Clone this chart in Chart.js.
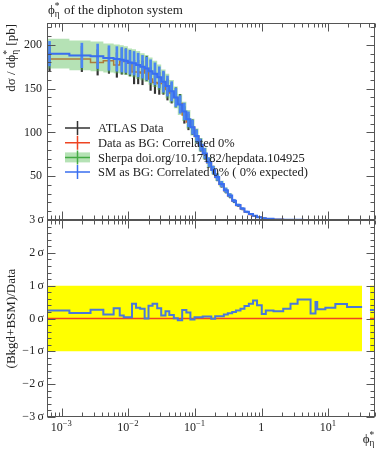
<!DOCTYPE html>
<html>
<head>
<meta charset="utf-8">
<style>
  html, body { margin: 0; padding: 0; background: #fff; }
</style>
</head>
<body>
<canvas id="phiChart" width="389" height="450"></canvas>
<script src="https://cdn.jsdelivr.net/npm/chart.js"></script>
<script>
// bin edges in phi*_eta (first bin really starts at 0, put just below the axis)
const binEdges = [0.00001, 0.0013, 0.0027, 0.0042, 0.006, 0.0074, 0.0085, 0.0098, 0.0113, 0.013,
    0.015, 0.0175, 0.02, 0.023, 0.027, 0.031, 0.036, 0.041, 0.048, 0.055,
    0.064, 0.074, 0.085, 0.098, 0.113, 0.13, 0.15, 0.175, 0.2, 0.23,
    0.27, 0.31, 0.36, 0.41, 0.48, 0.55, 0.64, 0.74, 0.85, 1.0,
    1.15, 1.5, 2.1, 2.7, 3.45, 4.1, 5.4, 6.4, 6.8, 9.0,
    12.7, 19, 32];

// ATLAS data, d sigma / d phi* [pb]
const dataVals = [184, 184, 180, 182, 177, 181, 181, 179, 169, 169,
    168, 173, 161, 157, 156, 156, 149, 145, 140, 133,
    120, 112, 106, 95.5, 85.5, 75.4, 65.5, 57, 48.6, 40.6,
    33.5, 27.4, 21.4, 16.5, 12.5, 9.0, 6.4, 4.5, 3.0, 2.06,
    1.26, 0.68, 0.38, 0.24, 0.14, 0.09, 0.07, 0.047, 0.04, 0.03,
    0.02, 0.01];
const dataErr = [14.5, 14.5, 14.5, 14.5, 14, 14.5, 14.5, 14.5, 13.5, 13.5,
    13.5, 14, 13, 12.5, 12.5, 12.5, 12, 11.5, 11, 10.5,
    9.5, 9, 8.5, 7.5, 7, 6, 5.2, 4.6, 3.9, 3.2,
    2.7, 2.2, 1.7, 1.3, 1.0, 0.72, 0.51, 0.36, 0.24, 0.16,
    0.1, 0.055, 0.03, 0.02, 0.011, 0.007, 0.006, 0.004, 0.003, 0.0025,
    0.0016, 0.0008];

// SM (Sherpa) prediction
const smVals = [190, 188, 187, 185, 184, 183, 182, 180, 179, 177,
    175, 173, 170, 167, 163, 158, 153, 147, 140, 132,
    124, 115, 106, 96, 86, 76, 66, 57, 49, 41,
    34, 28, 22, 17, 13, 9.5, 6.8, 4.8, 3.2, 2.1,
    1.3, 0.7, 0.4, 0.25, 0.15, 0.1, 0.07, 0.05, 0.04, 0.03,
    0.02, 0.01];
const smErr = [14, 14, 14, 14, 14, 14, 13.5, 13.5, 13.5, 13.5,
    13, 13, 13, 12.5, 12, 12, 11.5, 11, 10.5, 10,
    9.5, 8.5, 8, 7, 6.5, 5.7, 5, 4.3, 3.7, 3.1,
    2.6, 2.1, 1.7, 1.3, 1.0, 0.7, 0.5, 0.36, 0.24, 0.16,
    0.1, 0.05, 0.03, 0.02, 0.011, 0.008, 0.005, 0.004, 0.003, 0.002,
    0.0015, 0.001];
const sherpaErr = [17, 17, 17, 16.5, 16.5, 16.5, 16.5, 16, 16, 16,
    15.5, 15.5, 15.5, 15, 14.5, 14, 14, 13, 12.5, 12,
    11, 10.5, 9.5, 8.5, 7.7, 6.8, 6, 5.1, 4.4, 3.7,
    3.1, 2.5, 2, 1.5, 1.2, 0.85, 0.6, 0.43, 0.29, 0.19,
    0.12, 0.06, 0.04, 0.02, 0.014, 0.009, 0.006, 0.005, 0.004, 0.003,
    0.002, 0.001];

// ratio panel: (Bkgd+BSM)/Data in sigma
const sigVals = [0.24, 0.17, 0.27, 0.12, 0.31, 0.09, 0.04, 0.04, 0.45, 0.33,
    0.30, 0.0, 0.39, 0.45, 0.31, 0.09, 0.22, 0.11, 0.01, -0.05,
    0.26, 0.18, -0.03, 0.04, 0.04, 0.06, 0.06, -0.01, 0.07, 0.07,
    0.12, 0.16, 0.2, 0.24, 0.3, 0.38, 0.45, 0.55, 0.4, 0.14,
    0.24, 0.22, 0.3, 0.45, 0.58, 0.58, 0.15, 0.5, 0.28, 0.33,
    0.44, 0.35];
// the extra piece at the far right of the ratio panel
const tailEdges = [42, 60];
const tailSig = [0.26];
const bandSigma = 1;

const xTickVals = [0.001, 0.01, 0.1, 1, 10];
const xTickLabels = [['10', '\u22123'], ['10', '\u22122'], ['10', '\u22121'], ['1', ''], ['10', '1']];
const yTopTicks = [50, 100, 150, 200];
const yBotTicks = [3, 2, 1, 0, -1, -2, -3];

const legendLabels = ['ATLAS Data', 'Data as BG: Correlated 0%',
    'Sherpa doi.org/10.17182/hepdata.104925', 'SM as BG: Correlated 0% ( 0% expected)'];

const SERIF = '"Liberation Serif", "DejaVu Serif", serif';
const C_DATA = '#333333', C_RED = '#ee4422', C_BLUE = '#3a6ff0', C_GREEN = '#44aa44';

function stepPoints(edges, vals) {
    const pts = vals.map((v, i) => ({x: edges[i], y: v}));
    pts.push({x: edges[edges.length - 1], y: vals[vals.length - 1]});
    return pts;
}
function errBars(edges, vals, errs) {
    return vals.map((v, i) => ({x: (edges[i] + edges[i + 1]) / 2, y: [v - errs[i], v + errs[i]]}));
}
function withTail(pts, yFirst) {
    // gap, then the tail piece
    return pts.concat([{x: tailEdges[0], y: null}, {x: tailEdges[0], y: yFirst}, {x: tailEdges[1], y: yFirst}]);
}

const lastEdge = binEdges[binEdges.length - 1];
const flat = (v) => withTail([{x: binEdges[0], y: v}, {x: lastEdge, y: v}], v);

function font(ctx, size) { ctx.font = size + 'px ' + SERIF; }
function richWidth(ctx, parts, size) {
    let w = 0;
    parts.forEach(p => {
        if (typeof p === 'string') { font(ctx, size); w += ctx.measureText(p).width; }
        else { font(ctx, size * 0.72); w += Math.max(ctx.measureText(p.sup || '').width, ctx.measureText(p.sub || '').width) + 1; }
    });
    return w;
}
function drawRich(ctx, parts, x, y, size, align) {
    const w = richWidth(ctx, parts, size);
    let cx = align === 'right' ? x - w : (align === 'center' ? x - w / 2 : x);
    ctx.textAlign = 'left';
    ctx.textBaseline = 'alphabetic';
    parts.forEach(p => {
        if (typeof p === 'string') {
            font(ctx, size);
            ctx.fillText(p, cx, y);
            cx += ctx.measureText(p).width;
        } else {
            font(ctx, size * 0.72);
            if (p.sup) ctx.fillText(p.sup, cx, y - size * 0.42);
            if (p.sub) ctx.fillText(p.sub, cx, y + size * 0.22);
            cx += Math.max(ctx.measureText(p.sup || '').width, ctx.measureText(p.sub || '').width) + 1;
        }
    });
}
const PHI = ['\u03d5', {sup: '*', sub: '\u03b7'}];

const framePlugin = {
    id: 'rivetFrame',
    afterDraw(chart) {
        const ctx = chart.ctx;
        const xs = chart.scales.x, yt = chart.scales.yTop, yb = chart.scales.yBot;
        const L = Math.round(chart.chartArea.left) + 0.5, R = Math.round(chart.chartArea.right) - 0.5;
        ctx.save();
        ctx.strokeStyle = '#555';
        ctx.lineWidth = 1;
        const panels = [yt, yb];
        panels.forEach(s => {
            const T = Math.round(s.top) + 0.5, B = Math.round(s.bottom) - 0.5;
            ctx.strokeRect(L, T, R - L, B - T);
            ctx.beginPath();
            // x ticks, top and bottom
            for (let d = -4; d <= 2; d++) {
                for (let m = 1; m <= 9; m++) {
                    const v = m * Math.pow(10, d);
                    if (v < xs.min || v > xs.max) continue;
                    const px = Math.round(xs.getPixelForValue(v)) + 0.5;
                    const len = m === 1 ? 8 : 4;
                    ctx.moveTo(px, B); ctx.lineTo(px, B - len);
                    ctx.moveTo(px, T); ctx.lineTo(px, T + len);
                }
            }
            ctx.stroke();
        });
        // y ticks
        ctx.beginPath();
        for (let v = 0; v <= yt.max; v += 10) {
            const py = Math.round(yt.getPixelForValue(v)) + 0.5;
            const len = v % 50 === 0 ? 8 : 4;
            ctx.moveTo(L, py); ctx.lineTo(L + len, py);
            ctx.moveTo(R, py); ctx.lineTo(R - len, py);
        }
        for (let k = -15; k <= 15; k++) {
            const py = Math.round(yb.getPixelForValue(k * 0.2)) + 0.5;
            const len = k % 5 === 0 ? 8 : 4;
            ctx.moveTo(L, py); ctx.lineTo(L + len, py);
            ctx.moveTo(R, py); ctx.lineTo(R - len, py);
        }
        ctx.stroke();

        ctx.fillStyle = '#222';
        // y tick labels
        font(ctx, 12);
        ctx.textAlign = 'right';
        ctx.textBaseline = 'middle';
        yTopTicks.forEach(v => ctx.fillText(String(v), 42, yt.getPixelForValue(v)));
        yBotTicks.forEach(v => ctx.fillText((v < 0 ? '\u2212' + (-v) : v) + '\u2009\u03c3', 44, yb.getPixelForValue(v)));
        // x tick labels
        xTickVals.forEach((v, i) => {
            const lab = xTickLabels[i];
            drawRich(ctx, [lab[0], {sup: lab[1]}], xs.getPixelForValue(v), yb.bottom + 14, 12, 'center');
        });

        // titles
        drawRich(ctx, PHI.concat([' of the diphoton system']), 48, 14, 13, 'left');
        drawRich(ctx, PHI, R + 1, 443, 13, 'right');
        ctx.save();
        ctx.translate(15, yt.top + 1);
        ctx.rotate(-Math.PI / 2);
        drawRich(ctx, ['d\u03c3 / d\u03d5', {sup: '*', sub: '\u03b7'}, ' [pb]'], 0, 0, 13, 'right');
        ctx.restore();
        ctx.save();
        ctx.translate(15, (yb.top + yb.bottom) / 2);
        ctx.rotate(-Math.PI / 2);
        drawRich(ctx, ['(Bkgd+BSM)/Data'], 0, 0, 13, 'center');
        ctx.restore();

        // legend
        const styles = [C_DATA, C_RED, C_GREEN, C_BLUE];
        legendLabels.forEach((t, i) => {
            const cy = 128 + i * 14.7;
            if (i === 2) {
                ctx.fillStyle = 'rgba(90,190,90,0.45)';
                ctx.fillRect(65, cy - 5, 25, 10);
            }
            ctx.strokeStyle = styles[i];
            ctx.lineWidth = 1.5;
            ctx.beginPath();
            ctx.moveTo(65, cy); ctx.lineTo(90, cy);
            ctx.moveTo(77.5, cy - 7); ctx.lineTo(77.5, cy + 7);
            ctx.stroke();
            ctx.fillStyle = '#222';
            font(ctx, 12.5);
            ctx.textAlign = 'left';
            ctx.textBaseline = 'middle';
            ctx.fillText(t, 98, cy + 1);
        });
        ctx.restore();
    }
};

const sherpaHi = stepPoints(binEdges, smVals.map((v, i) => v + sherpaErr[i]));
const sherpaLo = stepPoints(binEdges, smVals.map((v, i) => v - sherpaErr[i]));

new Chart(document.getElementById('phiChart'), {
    type: 'line',
    data: {
        datasets: [
            // ratio panel
            {data: flat(bandSigma), yAxisID: 'yBot', borderWidth: 0, fill: false, order: 20},
            {data: flat(-bandSigma), yAxisID: 'yBot', borderWidth: 0, fill: '-1',
                backgroundColor: '#ffff00', order: 20},
            {data: flat(0), yAxisID: 'yBot', borderColor: C_RED, borderWidth: 1.5, order: 4},
            {data: withTail(stepPoints(binEdges, sigVals), tailSig[0]), yAxisID: 'yBot',
                borderColor: '#4a78d8', borderWidth: 2, stepped: 'before', order: 2},
            // main panel
            {type: 'bar', data: errBars(binEdges, dataVals, dataErr), yAxisID: 'yTop',
                backgroundColor: C_DATA, barThickness: 1.5, grouped: false, order: 9},
            {data: stepPoints(binEdges, dataVals), yAxisID: 'yTop', borderColor: C_RED,
                borderWidth: 1.5, stepped: 'before', order: 8},
            {data: sherpaHi, yAxisID: 'yTop', borderWidth: 0, stepped: 'before', fill: false, order: 7},
            {data: sherpaLo, yAxisID: 'yTop', borderWidth: 0, stepped: 'before', fill: '-1',
                backgroundColor: 'rgba(90,190,90,0.45)', order: 7},
            {data: stepPoints(binEdges, smVals), yAxisID: 'yTop', borderColor: C_GREEN,
                borderWidth: 1, stepped: 'before', order: 6},
            {type: 'bar', data: errBars(binEdges, smVals, smErr), yAxisID: 'yTop',
                backgroundColor: '#4a86f2', barThickness: 2, grouped: false, order: 3},
            {data: stepPoints(binEdges, smVals), yAxisID: 'yTop', borderColor: C_BLUE,
                borderWidth: 2, stepped: 'before', order: 1}
        ]
    },
    options: {
        responsive: false,
        animation: false,
        devicePixelRatio: 1,
        layout: {padding: {left: 47, right: 14, top: 23, bottom: 33}},
        plugins: {legend: {display: false}, tooltip: {enabled: false}},
        elements: {point: {radius: 0}, line: {tension: 0}},
        scales: {
            x: {type: 'logarithmic', min: 0.00064, max: 50, offset: false, display: false},
            yBot: {type: 'linear', min: -3, max: 3, stack: 'panels', stackWeight: 1,
                position: 'left', display: false, beginAtZero: false},
            yTop: {type: 'linear', min: 0, max: 225, stack: 'panels', stackWeight: 1,
                position: 'left', display: false}
        }
    },
    plugins: [framePlugin]
});
</script>
</body>
</html>
